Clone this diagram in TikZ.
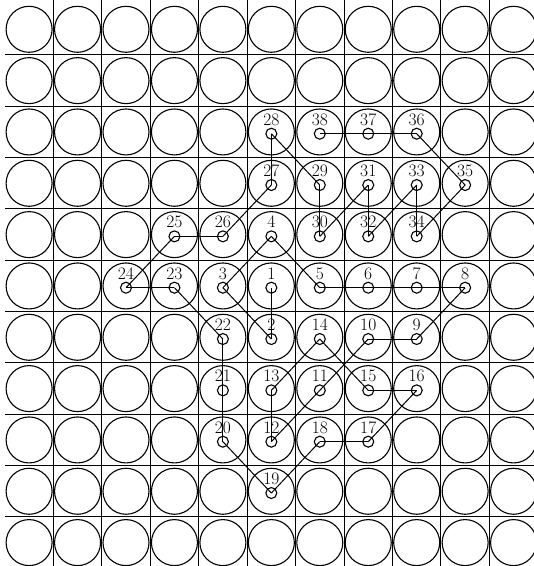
\documentclass[tikz,border=0pt]{standalone}
\begin{document}
\begin{tikzpicture}[x=48.45pt,y=-51.33pt,
  bigc/.style={circle,draw,line width=1.1pt,minimum size=46pt,inner sep=0pt},
  dot/.style={circle,draw,line width=1.1pt,minimum size=11pt,inner sep=0pt,yshift=-1.75pt},
  lab/.style={inner sep=0pt,font=\fontsize{17.5}{17.5}\selectfont,yshift=12.5pt},
  gridline/.style={line width=1pt},
  link/.style={line width=1pt}]
\useasboundingbox (-0.6006,-0.5708) rectangle (10.421,10.456);
\begin{scope}
\clip (-0.6006,-0.5708) rectangle (10.421,10.456);
\foreach \i in {0,...,10}{
  \foreach \j in {0,...,10}{
    \node[bigc] (c\j-\i) at (\j,\i) {};
  }
}
\foreach \k in {0,...,9}{
  \draw[gridline] (\k+0.5,-0.6) -- (\k+0.5,10.5);
  \draw[gridline] (-0.5,\k+0.5) -- (10.5,\k+0.5);
}
\end{scope}
\foreach \n/\x/\y in {1/5/5,2/5/6,3/4/5,4/5/4,5/6/5,6/7/5,7/8/5,8/9/5,9/8/6,10/7/6,
  11/6/7,12/5/8,13/5/7,14/6/6,15/7/7,16/8/7,17/7/8,18/6/8,19/5/9,20/4/8,
  21/4/7,22/4/6,23/3/5,24/2/5,25/3/4,26/4/4,27/5/3,28/5/2,29/6/3,30/6/4,
  31/7/3,32/7/4,33/8/3,34/8/4,35/9/3,36/8/2,37/7/2,38/6/2}{
  \node[dot] (p\n) at (\x,\y) {};
  \node[lab] (t\n) at (\x,\y) {\n};
}
\foreach \a/\b in {1/2,2/3,3/4,4/5,5/6,6/7,7/8,8/9,9/10,10/11,11/12,12/13,13/14,14/15,
  15/16,16/17,17/18,18/19,19/20,20/21,21/22,22/23,23/24,24/25,25/26,26/27,27/28,
  28/29,29/30,30/31,31/32,32/33,33/34,34/35,35/36,36/37,37/38}{
  \draw[link] (p\a.center) -- (p\b.center);
}
\end{tikzpicture}
\end{document}
